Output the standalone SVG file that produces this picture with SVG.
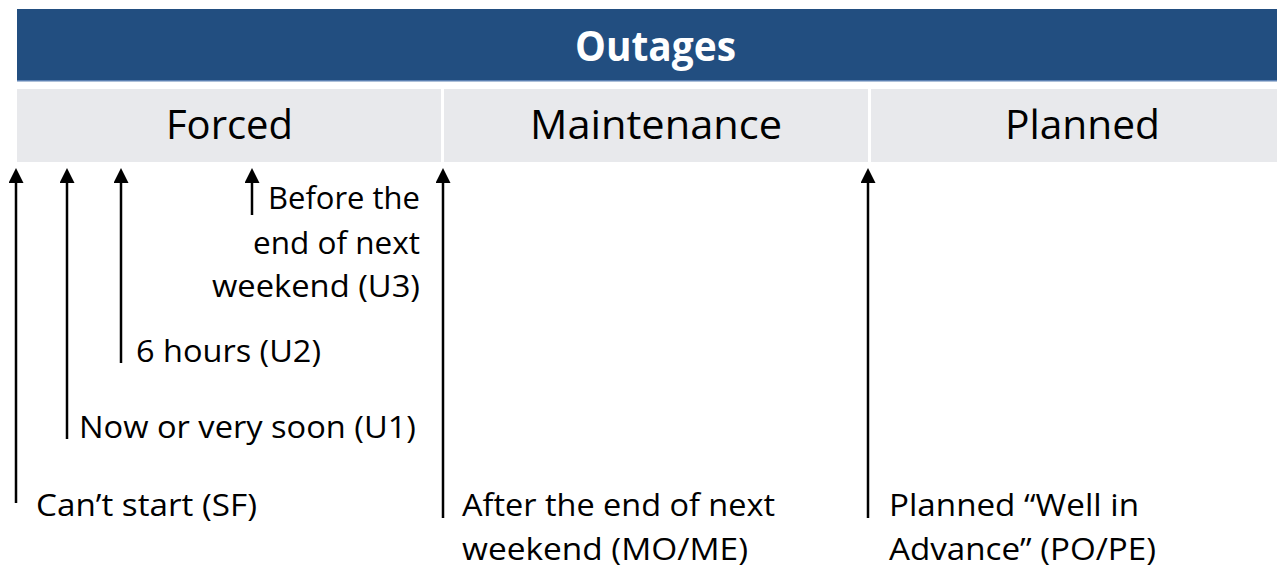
<svg xmlns="http://www.w3.org/2000/svg" width="1277" height="569" viewBox="0 0 1277 569">
<style>
.hdr{fill:#224E80}
.cell{fill:#E8E9EC}
.title{font-family:"Open Sans","Noto Sans",sans-serif;font-weight:bold;font-size:42px;fill:#FFFFFF}
.cat{font-family:"Open Sans","Noto Sans",sans-serif;font-size:40px;fill:#000000}
.lbl{font-family:"Open Sans","Noto Sans",sans-serif;font-size:31.5px;fill:#000000}
.arr{stroke:#000000;stroke-width:2.5;fill:none;marker-end:url(#head)}
</style>
<defs>
<marker id="head" markerUnits="userSpaceOnUse" markerWidth="15" markerHeight="15" refX="0" refY="7.5" orient="auto" viewBox="0 0 15 15">
<path d="M0,0 L15,7.5 L0,15 z" fill="#000000"/>
</marker>
</defs>
<rect width="1277" height="569" fill="#FFFFFF"/>
<g id="header">
<rect class="hdr" x="17" y="9" width="1260" height="72"/>
<rect x="17" y="80" width="1260" height="1.5" fill="#5B80B2"/>
<text class="title" x="575" y="61" textLength="161" lengthAdjust="spacingAndGlyphs">Outages</text>
</g>
<g id="forced">
<rect class="cell" x="17" y="89" width="424" height="73"/>
<text class="cat" x="166" y="139" textLength="127" lengthAdjust="spacingAndGlyphs">Forced</text>
</g>
<g id="maintenance">
<rect class="cell" x="444" y="89" width="424" height="73"/>
<text class="cat" x="530" y="139" textLength="252" lengthAdjust="spacingAndGlyphs">Maintenance</text>
</g>
<g id="planned">
<rect class="cell" x="871" y="89" width="406" height="73"/>
<text class="cat" x="1005" y="139" textLength="155" lengthAdjust="spacingAndGlyphs">Planned</text>
</g>
<g id="connectors">
<line class="arr" x1="16" y1="503" x2="16" y2="183"/>
<line class="arr" x1="67" y1="439" x2="67" y2="183"/>
<line class="arr" x1="121" y1="363" x2="121" y2="183"/>
<line class="arr" x1="252" y1="215" x2="252" y2="183"/>
<line class="arr" x1="443" y1="518" x2="443" y2="183"/>
<line class="arr" x1="868" y1="518" x2="868" y2="183"/>
</g>
<g id="label-u3">
<text class="lbl" x="268" y="209" textLength="152" lengthAdjust="spacingAndGlyphs">Before the</text>
<text class="lbl" x="253" y="254" textLength="167" lengthAdjust="spacingAndGlyphs">end of next</text>
<text class="lbl" x="212" y="297" textLength="208" lengthAdjust="spacingAndGlyphs">weekend (U3)</text>
</g>
<g id="label-u2">
<text class="lbl" x="136" y="362" textLength="185" lengthAdjust="spacingAndGlyphs">6 hours (U2)</text>
</g>
<g id="label-u1">
<text class="lbl" x="79" y="438" textLength="337" lengthAdjust="spacingAndGlyphs">Now or very soon (U1)</text>
</g>
<g id="label-sf">
<text class="lbl" x="36" y="516" textLength="221" lengthAdjust="spacingAndGlyphs">Can’t start (SF)</text>
</g>
<g id="label-mo">
<text class="lbl" x="462" y="516" textLength="313" lengthAdjust="spacingAndGlyphs">After the end of next</text>
<text class="lbl" x="462" y="560" textLength="286" lengthAdjust="spacingAndGlyphs">weekend (MO/ME)</text>
</g>
<g id="label-po">
<text class="lbl" x="889" y="516" textLength="250" lengthAdjust="spacingAndGlyphs">Planned “Well in</text>
<text class="lbl" x="889" y="560" textLength="267" lengthAdjust="spacingAndGlyphs">Advance” (PO/PE)</text>
</g>
</svg>
